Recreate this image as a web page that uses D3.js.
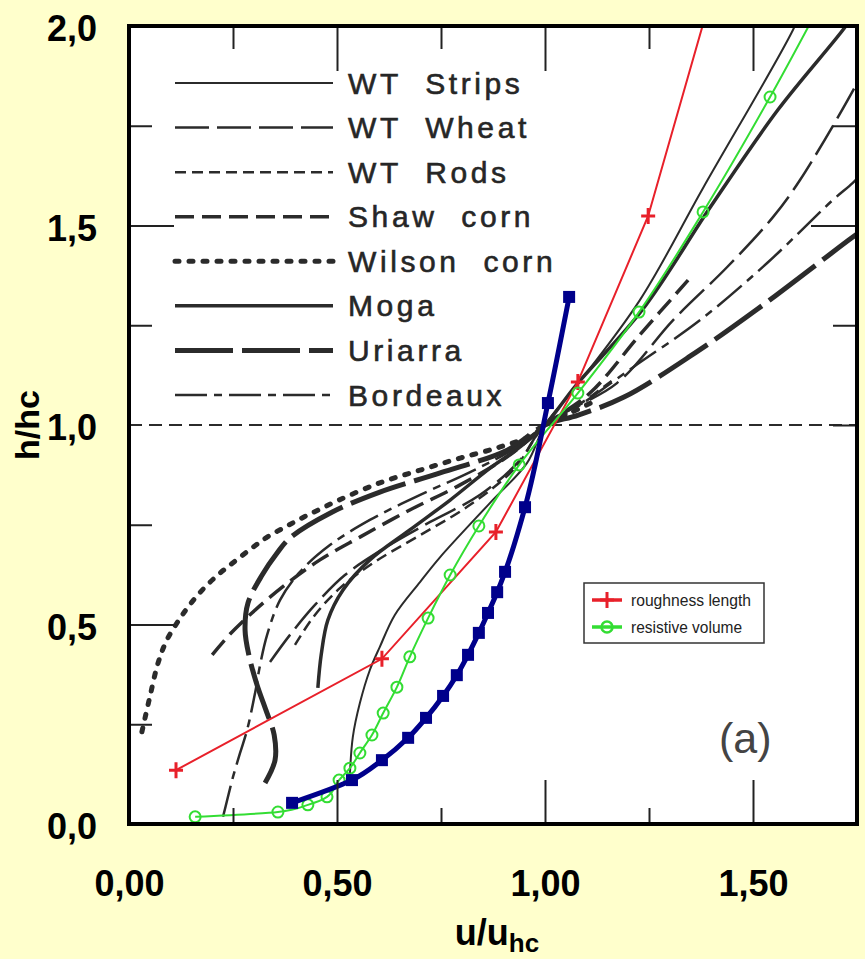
<!DOCTYPE html>
<html><head><meta charset="utf-8">
<script src="https://cdn.jsdelivr.net/npm/d3@7"></script>
<style>
html,body{margin:0;padding:0;background:#FFFFCC;}
svg{display:block;}
text{font-family:"Liberation Sans",Arial,Helvetica,sans-serif;}
</style></head><body>
<svg id="chart" width="865" height="959"></svg>
<script>
// ---------- DATA ----------
const xTickValues = [0, 0.5, 1.0, 1.5];
const xTickLabels = ["0,00", "0,50", "1,00", "1,50"];
const yTickValues = [0, 0.5, 1.0, 1.5, 2.0];
const yTickLabels = ["0,0", "0,5", "1,0", "1,5", "2,0"];
const xMajorInner = [0.5, 1.0, 1.5];
const xMinorInner = [0.25, 0.75, 1.25];
const yMajorInner = [0.5, 1.5];
const yMinorInner = [0.25, 0.75, 1.25, 1.75];
const refLevel = [1.0];

const scanNames = ["WT  Strips", "WT  Wheat", "WT  Rods", "Shaw  corn", "Wilson  corn", "Moga", "Uriarra", "Bordeaux"];

// [u/uhc, h/hc]
const wtStrips = [[0.531,0.123],[0.538,0.218],[0.555,0.303],[0.579,0.386],[0.603,0.444],[0.639,0.524],[0.700,0.607],[0.748,0.669],[0.868,0.805],[0.957,0.905],[1.0,1.0],[1.077,1.100],[1.228,1.313],[1.380,1.594],[1.596,1.990],[1.62,2.05]];
const wtWheat = [[0.339,0.406],[0.387,0.474],[0.447,0.549],[0.519,0.624],[0.615,0.692],[0.724,0.757],[0.844,0.825],[0.940,0.912],[1.0,1.0],[1.173,1.105],[1.308,1.263],[1.438,1.396],[1.548,1.521],[1.613,1.614],[1.745,1.847],[1.77,1.90]];
const wtRods = [[0.399,0.449],[0.447,0.524],[0.507,0.591],[0.591,0.657],[0.700,0.724],[0.820,0.800],[0.928,0.892],[1.0,1.0],[1.08,1.05],[1.16,1.11]];
const shawCorn = [[0.200,0.424],[0.243,0.476],[0.303,0.536],[0.375,0.599],[0.459,0.662],[0.555,0.719],[0.675,0.787],[0.796,0.850],[0.916,0.925],[1.0,1.0],[1.108,1.080],[1.228,1.226],[1.344,1.363]];
const wilsonCorn = [[0.031,0.231],[0.050,0.318],[0.070,0.404],[0.091,0.461],[0.123,0.516],[0.151,0.556],[0.183,0.594],[0.219,0.629],[0.255,0.659],[0.296,0.692],[0.332,0.719],[0.375,0.744],[0.416,0.767],[0.459,0.789],[0.505,0.812],[0.603,0.855],[0.700,0.887],[0.796,0.917],[0.892,0.945],[0.971,0.975],[1.0,1.0],[1.06,1.03],[1.12,1.06]];
const moga = [[0.454,0.341],[0.462,0.424],[0.478,0.511],[0.514,0.586],[0.579,0.662],[0.675,0.737],[0.772,0.812],[0.868,0.892],[0.940,0.945],[1.0,1.0],[1.075,1.10],[1.235,1.29],[1.40,1.55],[1.56,1.79],[1.716,1.99],[1.75,2.04]];
const uriarra = [[0.327,0.103],[0.351,0.160],[0.349,0.223],[0.329,0.286],[0.308,0.348],[0.288,0.424],[0.279,0.486],[0.286,0.554],[0.320,0.624],[0.356,0.679],[0.387,0.717],[0.483,0.779],[0.603,0.832],[0.748,0.880],[0.909,0.937],[1.0,1.0],[1.08,1.025],[1.19,1.07],[1.36,1.18],[1.51,1.29],[1.65,1.40],[1.74,1.471],[1.78,1.50]];
const bordeaux = [[0.226,0.018],[0.236,0.060],[0.250,0.118],[0.267,0.178],[0.284,0.236],[0.303,0.328],[0.315,0.398],[0.332,0.474],[0.363,0.561],[0.411,0.632],[0.483,0.699],[0.579,0.762],[0.700,0.825],[0.820,0.882],[0.928,0.942],[1.0,1.0],[1.067,1.038],[1.212,1.145],[1.373,1.263],[1.534,1.406],[1.692,1.564],[1.740,1.607],[1.78,1.65]];

const roughnessLength = [[0.113,0.135],[0.608,0.414],[0.882,0.732],[1.079,1.108],[1.248,1.524],[1.45,2.26]];
const resistiveVolume = [[0.159,0.018],[0.358,0.030],[0.430,0.048],[0.476,0.068],[0.505,0.110],[0.531,0.140],[0.555,0.178],[0.584,0.223],[0.611,0.278],[0.644,0.343],[0.675,0.419],[0.719,0.516],[0.772,0.624],[0.841,0.747],[0.938,0.900],[1.079,1.080],[1.226,1.283],[1.380,1.534],[1.541,1.822],[1.70,2.13]];
const modelProfile = [[0.392,0.053],[0.536,0.110],[0.608,0.160],[0.671,0.216],[0.714,0.266],[0.755,0.321],[0.788,0.373],[0.815,0.424],[0.841,0.479],[0.863,0.529],[0.885,0.581],[0.904,0.632],[0.952,0.794],[1.007,1.055],[1.058,1.321]];

const smallLegendNames = ["roughness length", "resistive volume"];

// ---------- STYLES ----------
const scanStyles = {
  "WT  Strips":   {w:2,   dash:null},
  "WT  Wheat":    {w:2.5, dash:"34,8"},
  "WT  Rods":     {w:2.5, dash:"11,6"},
  "Shaw  corn":   {w:3.5, dash:"19,8"},
  "Wilson  corn": {w:5,   dash:"4,10", cap:"round"},
  "Moga":         {w:3.5, dash:null},
  "Uriarra":      {w:5,   dash:"58,9"},
  "Bordeaux":     {w:2.5, dash:"32,7,8,7"}
};
const scanData = {"WT  Strips":wtStrips,"WT  Wheat":wtWheat,"WT  Rods":wtRods,"Shaw  corn":shawCorn,"Wilson  corn":wilsonCorn,"Moga":moga,"Uriarra":uriarra,"Bordeaux":bordeaux};
const ink = "#2b2b2b";
const RED = "#E8202A", GREEN = "#33DD33", BLUE = "#00008B";

// ---------- LAYOUT ----------
const svg = d3.select("#chart");
const x = d3.scaleLinear().domain([0, 1.75]).range([129, 857]);
const y = d3.scaleLinear().domain([0, 2]).range([824, 26]);
const [x0, x1] = x.range(), [y0, y1] = y.range();

svg.append("rect").attr("width", 865).attr("height", 959).attr("fill", "#FFFFCC");
svg.append("rect").attr("x", x0).attr("y", y1).attr("width", x1 - x0).attr("height", y0 - y1).attr("fill", "#fff");

const defs = svg.append("defs");
defs.append("clipPath").attr("id", "plotclip").append("rect")
  .attr("x", x0).attr("y", y1).attr("width", x1 - x0).attr("height", y0 - y1);

const plot = svg.append("g").attr("clip-path", "url(#plotclip)");
const line = d3.line().x(d => x(d[0])).y(d => y(d[1])).curve(d3.curveCatmullRom.alpha(0.5));
const mline = d3.line().x(d => x(d[0])).y(d => y(d[1])).curve(d3.curveMonotoneY);
const lline = d3.line().x(d => x(d[0])).y(d => y(d[1]));

// reference line h/hc = 1
plot.selectAll(".ref").data(refLevel).join("line")
  .attr("x1", x0).attr("x2", x1).attr("y1", d => y(d)).attr("y2", d => y(d))
  .attr("stroke", ink).attr("stroke-width", 2).attr("stroke-dasharray", "13,7");

// scanned curves
scanNames.forEach(n => {
  const s = scanStyles[n];
  plot.append("path").datum(scanData[n]).attr("d", line)
    .attr("fill", "none").attr("stroke", ink).attr("stroke-width", s.w)
    .attr("stroke-dasharray", s.dash).attr("stroke-linecap", s.cap || "butt");
});

// legend of scanned curves
const legRowY = d3.scalePoint().domain(scanNames).range([83, 395]);
const leg = svg.append("g");
scanNames.forEach(n => {
  const s = scanStyles[n];
  leg.append("line").attr("x1", 175).attr("x2", 333).attr("y1", legRowY(n)).attr("y2", legRowY(n))
    .attr("stroke", ink).attr("stroke-width", s.w).attr("stroke-dasharray", s.dash)
    .attr("stroke-linecap", s.cap || "butt");
  leg.append("text").attr("x", 348).attr("y", legRowY(n) + 10.5)
    .attr("xml:space", "preserve").style("white-space", "pre")
    .attr("font-size", 30).attr("letter-spacing", 3.6).attr("fill", "#262626")
    .attr("stroke", "#262626").attr("stroke-width", 0.6).text(n);
});

// red: roughness length
plot.append("path").datum(roughnessLength).attr("d", lline)
  .attr("fill", "none").attr("stroke", RED).attr("stroke-width", 2);
const plus = (g, cx, cy) => g.append("path").attr("d", `M${cx-7},${cy}H${cx+7}M${cx},${cy-8}V${cy+8}`)
  .attr("stroke", RED).attr("stroke-width", 3).attr("fill", "none");
roughnessLength.forEach(d => plus(plot, x(d[0]), y(d[1])));

// green: resistive volume
plot.append("path").datum(resistiveVolume).attr("d", mline)
  .attr("fill", "none").attr("stroke", GREEN).attr("stroke-width", 2);
plot.selectAll(".gc").data(resistiveVolume).join("circle")
  .attr("cx", d => x(d[0])).attr("cy", d => y(d[1])).attr("r", 5.5)
  .attr("fill", "none").attr("stroke", GREEN).attr("stroke-width", 2);

// blue model
plot.append("path").datum(modelProfile).attr("d", mline)
  .attr("fill", "none").attr("stroke", BLUE).attr("stroke-width", 5);
plot.selectAll(".bs").data(modelProfile).join("rect")
  .attr("x", d => x(d[0]) - 6).attr("y", d => y(d[1]) - 6).attr("width", 12).attr("height", 12)
  .attr("fill", BLUE);

// small legend box
const lb = svg.append("g");
lb.append("rect").attr("x", 584).attr("y", 583).attr("width", 180).attr("height", 60)
  .attr("fill", "#fff").attr("stroke", "#333").attr("stroke-width", 1.5);
const lbRows = [{c: RED, y: 600, len: 120}, {c: GREEN, y: 627, len: 111}];
lbRows.forEach((r, i) => {
  lb.append("line").attr("x1", 592).attr("x2", 622).attr("y1", r.y).attr("y2", r.y)
    .attr("stroke", r.c).attr("stroke-width", 3.5);
  if (i === 0) plus(lb, 607, r.y);
  else lb.append("circle").attr("cx", 607).attr("cy", r.y).attr("r", 5.5)
    .attr("fill", "none").attr("stroke", GREEN).attr("stroke-width", 2.5);
  lb.append("text").attr("x", 631).attr("y", r.y + 6).attr("font-size", 16)
    .attr("textLength", r.len).attr("lengthAdjust", "spacingAndGlyphs")
    .attr("fill", "#222").text(smallLegendNames[i]);
});

// "(a)"
svg.append("text").attr("x", 719).attr("y", 753).attr("font-size", 43).attr("fill", "#444").text("(a)");

// inner tick marks of the scanned frame
function inner(axis, vals, size, tr) {
  const g = svg.append("g").attr("transform", tr)
    .call(axis.tickValues(vals).tickSize(size).tickFormat(""));
  g.select(".domain").remove();
  g.selectAll(".tick line").attr("stroke", "#222").attr("stroke-width", 2);
}
inner(d3.axisTop(x), xMajorInner, -45, `translate(0,${y1})`);
inner(d3.axisTop(x), xMinorInner, -23, `translate(0,${y1})`);
inner(d3.axisBottom(x), xMajorInner, -44, `translate(0,${y0})`);
inner(d3.axisBottom(x), xMinorInner, -16, `translate(0,${y0})`);
inner(d3.axisLeft(y), yMajorInner, -45, `translate(${x0},0)`);
inner(d3.axisLeft(y), yMinorInner, -23, `translate(${x0},0)`);
inner(d3.axisRight(y), [1.5], -46, `translate(${x1},0)`);
inner(d3.axisRight(y), [1.0, 1.25, 1.75], -24, `translate(${x1},0)`);

// frame
svg.append("rect").attr("x", x0).attr("y", y1).attr("width", x1 - x0).attr("height", y0 - y1)
  .attr("fill", "none").attr("stroke", "#000").attr("stroke-width", 4);

// tick labels
const xl = svg.append("g").attr("transform", `translate(0,${y0})`)
  .call(d3.axisBottom(x).tickValues(xTickValues).tickFormat((d, i) => xTickLabels[i]).tickSize(0).tickPadding(46));
xl.select(".domain").remove();
xl.selectAll("text").attr("font-size", 36).attr("font-weight", "bold").attr("fill", "#000")
  .attr("font-family", "'Liberation Sans',Arial,sans-serif");

const yl = svg.append("g").attr("transform", `translate(${x0},3)`)
  .call(d3.axisLeft(y).tickValues(yTickValues).tickFormat((d, i) => yTickLabels[i]).tickSize(0).tickPadding(32));
yl.select(".domain").remove();
yl.selectAll("text").attr("font-size", 36).attr("font-weight", "bold").attr("fill", "#000")
  .attr("font-family", "'Liberation Sans',Arial,sans-serif");

// axis titles
svg.append("text").attr("transform", "translate(39,425) rotate(-90)").attr("text-anchor", "middle")
  .attr("font-size", 34).attr("font-weight", "bold").text("h/hc");
const xt = svg.append("text").attr("x", 497).attr("y", 945).attr("text-anchor", "middle")
  .attr("font-size", 36).attr("font-weight", "bold");
xt.append("tspan").text("u/u");
xt.append("tspan").attr("font-size", 26).attr("dy", 7).text("hc");
</script>
</body></html>
